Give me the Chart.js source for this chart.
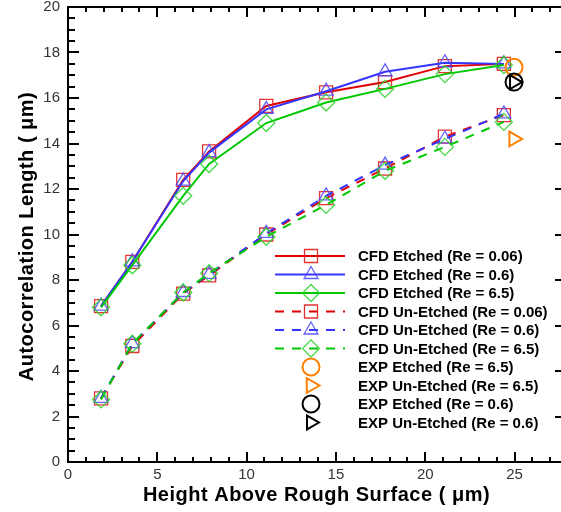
<!DOCTYPE html>
<html><head><meta charset="utf-8">
<script src="https://cdn.jsdelivr.net/npm/chart.js@4.4.1/dist/chart.umd.min.js"></script>
<style>html,body{margin:0;padding:0;background:#fff;}#wrap{width:561px;height:512px;position:relative;}</style>
</head><body><div id="wrap"><canvas id="c" width="561" height="512"></canvas></div>
<script>
// ---- data ----
const heights = [1.85, 3.6, 6.45, 7.9, 11.1, 14.45, 17.75, 21.1, 24.4];
const cfdEtchedRe006   = [6.85, 8.8, 12.4, 13.65, 15.65, 16.25, 16.7, 17.4, 17.5];
const cfdEtchedRe06    = [6.85, 8.8, 12.35, 13.6, 15.5, 16.3, 17.15, 17.55, 17.5];
const cfdEtchedRe65    = [6.8, 8.65, 11.7, 13.1, 14.9, 15.8, 16.4, 17.05, 17.45];
const cfdUnEtchedRe006 = [2.8, 5.1, 7.4, 8.2, 10.0, 11.6, 12.9, 14.3, 15.25];
const cfdUnEtchedRe06  = [2.8, 5.2, 7.45, 8.25, 10.05, 11.7, 13.05, 14.2, 15.3];
const cfdUnEtchedRe65  = [2.75, 5.2, 7.45, 8.3, 9.9, 11.3, 12.8, 13.85, 14.95];
const expEtchedRe65Height = [24.97];
const expEtchedRe65 = [17.35];
const expUnEtchedRe65Height = [24.95];
const expUnEtchedRe65 = [14.2];
const expEtchedRe06Height = [24.97];
const expEtchedRe06 = [16.7];
const expUnEtchedRe06Height = [24.97];
const expUnEtchedRe06 = [16.7];
const labels = [
  'CFD Etched (Re = 0.06)', 'CFD Etched (Re = 0.6)', 'CFD Etched (Re = 6.5)',
  'CFD Un-Etched (Re = 0.06)', 'CFD Un-Etched (Re = 0.6)', 'CFD Un-Etched (Re = 6.5)',
  'EXP Etched (Re = 6.5)', 'EXP Un-Etched (Re = 6.5)', 'EXP Etched (Re = 0.6)', 'EXP Un-Etched (Re = 0.6)'
];
const xTitle = 'Height Above Rough Surface ( \u03bcm)';
const yTitle = 'Autocorrelation Length ( \u03bcm)';
const xMin = 0, xMax = 27.6, yMin = 0, yMax = 20;

// ---- styles ----
const RED = '#e00000', BLUE = '#3535ff', GREEN = '#00c800', ORANGE = '#ff8000', BLACK = '#000000';
const FONT = '"Liberation Sans", Arial, Helvetica, sans-serif';
const pts = (xs, ys) => xs.map((x, i) => ({x: x, y: ys[i]}));

const styleDefs = [
  {c: RED,   mc: 'rgba(224,30,30,0.9)',  dash: [],    ps: 'rect',     r: 9.2, line: true},
  {c: BLUE,  mc: 'rgba(70,70,255,0.85)', dash: [],    ps: 'triangle', r: 8,   line: true},
  {c: GREEN, mc: 'rgba(40,210,40,0.85)', dash: [],    ps: 'rectRot',  r: 8.5, line: true},
  {c: RED,   mc: 'rgba(224,30,30,0.9)',  dash: [9,8], ps: 'rect',     r: 9.2, line: true},
  {c: BLUE,  mc: 'rgba(70,70,255,0.85)', dash: [9,8], ps: 'triangle', r: 8,   line: true},
  {c: GREEN, mc: 'rgba(40,210,40,0.85)', dash: [9,8], ps: 'rectRot',  r: 8.5, line: true},
  {c: ORANGE, mc: ORANGE, dash: [], ps: 'circle',   r: 8.5, rot: 0,  line: false, bw: 2},
  {c: ORANGE, mc: ORANGE, dash: [], ps: 'triangle', r: 8.5, rot: 90, line: false, bw: 2},
  {c: BLACK,  mc: BLACK,  dash: [], ps: 'circle',   r: 8.5, rot: 0,  line: false, bw: 2},
  {c: BLACK,  mc: BLACK,  dash: [], ps: 'triangle', r: 8,   rot: 90, line: false, bw: 2}
];
const seriesData = [
  pts(heights, cfdEtchedRe006), pts(heights, cfdEtchedRe06), pts(heights, cfdEtchedRe65),
  pts(heights, cfdUnEtchedRe006), pts(heights, cfdUnEtchedRe06), pts(heights, cfdUnEtchedRe65),
  pts(expEtchedRe65Height, expEtchedRe65), pts(expUnEtchedRe65Height, expUnEtchedRe65),
  pts(expEtchedRe06Height, expEtchedRe06), pts(expUnEtchedRe06Height, expUnEtchedRe06)
];

const datasets = seriesData.map((d, i) => {
  const s = styleDefs[i];
  return {
    label: labels[i], data: d, order: 20 - i,
    showLine: s.line, borderColor: s.c, borderWidth: 2, borderDash: s.dash,
    pointStyle: s.ps, pointRadius: s.r, pointHoverRadius: s.r, pointRotation: s.rot || 0,
    pointBorderColor: s.mc, pointBackgroundColor: 'rgba(0,0,0,0)', pointBorderWidth: s.bw || 1.3,
    tension: 0, fill: false, clip: false
  };
});

const decor = {
  id: 'decor',
  afterDraw(chart) {
    const ctx = chart.ctx, a = chart.chartArea, x = chart.scales.x, y = chart.scales.y;
    ctx.save();
    ctx.strokeStyle = '#000';
    ctx.lineWidth = 2;
    ctx.beginPath(); ctx.moveTo(a.left, a.top); ctx.lineTo(a.right, a.top); ctx.stroke();
    // x ticks (bottom & top), inward
    for (let v = Math.ceil(xMin); v <= xMax; v += 1) {
      const px = Math.round(x.getPixelForValue(v));
      const L = (v % 5 === 0) ? 10 : 5;
      ctx.beginPath();
      ctx.moveTo(px, a.bottom); ctx.lineTo(px, a.bottom - L);
      ctx.moveTo(px, a.top); ctx.lineTo(px, a.top + L);
      ctx.stroke();
    }
    // y ticks (left minor+major, right major), inward
    for (let v = yMin; v <= yMax + 1e-9; v += 0.5) {
      const py = Math.round(y.getPixelForValue(v));
      const major = Math.abs(v % 2) < 1e-9;
      const L = major ? 11 : 7;
      ctx.beginPath();
      ctx.moveTo(a.left, py); ctx.lineTo(a.left + L, py);
      if (major) { ctx.moveTo(a.right, py); ctx.lineTo(a.right - 6, py); }
      ctx.stroke();
    }
    // axis titles
    ctx.fillStyle = '#000';
    ctx.font = 'bold 20px ' + FONT;
    try { ctx.letterSpacing = '0.5px'; } catch (e) {}
    ctx.textAlign = 'center'; ctx.textBaseline = 'middle';
    ctx.fillText(xTitle, (a.left + a.right) / 2 + 2, 495);
    ctx.save();
    ctx.translate(27, (a.top + a.bottom) / 2 + 2);
    ctx.rotate(-Math.PI / 2);
    ctx.fillText(yTitle, 0, 0);
    ctx.restore();
    try { ctx.letterSpacing = '0px'; } catch (e) {}
    // legend
    const lx0 = 275, lx1 = 345, mx = 311, tx = 358, ly0 = 256, dy = 18.5;
    ctx.font = 'bold 15px ' + FONT;
    ctx.textAlign = 'left';
    chart.data.datasets.forEach((ds, i) => {
      const s = styleDefs[i];
      const yy = ly0 + i * dy;
      if (s.line) {
        ctx.save();
        ctx.strokeStyle = s.c; ctx.lineWidth = 2; ctx.setLineDash(s.dash);
        ctx.beginPath(); ctx.moveTo(lx0, yy); ctx.lineTo(lx1, yy); ctx.stroke();
        ctx.restore();
      }
      ctx.save();
      ctx.strokeStyle = s.mc; ctx.lineWidth = s.bw || 1.3; ctx.fillStyle = 'rgba(0,0,0,0)';
      Chart.helpers.drawPoint(ctx, {pointStyle: s.ps, radius: s.r, rotation: s.rot || 0, borderWidth: s.bw || 1.3}, mx, yy);
      ctx.restore();
      ctx.fillStyle = '#000';
      ctx.fillText(ds.label, tx, yy + 1);
    });
    ctx.restore();
  }
};

new Chart(document.getElementById('c'), {
  type: 'scatter',
  data: {datasets: datasets},
  options: {
    responsive: false, animation: false, devicePixelRatio: 1,
    layout: {autoPadding: false, padding: {top: 7, right: 0, left: 0, bottom: 0}},
    plugins: {legend: {display: false}, tooltip: {enabled: false}},
    scales: {
      x: {
        type: 'linear', min: xMin, max: xMax,
        grid: {display: false, drawTicks: false},
        border: {display: true, color: '#000', width: 2},
        ticks: {stepSize: 5, includeBounds: false, padding: 4, color: '#333', font: {family: FONT, size: 15}, maxRotation: 0},
        afterFit(s) { s.height = 50; s.paddingLeft = 0; s.paddingRight = 0; }
      },
      y: {
        type: 'linear', min: yMin, max: yMax,
        grid: {display: false, drawTicks: false},
        border: {display: true, color: '#000', width: 2},
        ticks: {stepSize: 2, padding: 8, color: '#333', font: {family: FONT, size: 15}},
        afterFit(s) { s.width = 68; s.paddingTop = 0; s.paddingBottom = 0; }
      }
    }
  },
  plugins: [decor]
});
</script></body></html>
